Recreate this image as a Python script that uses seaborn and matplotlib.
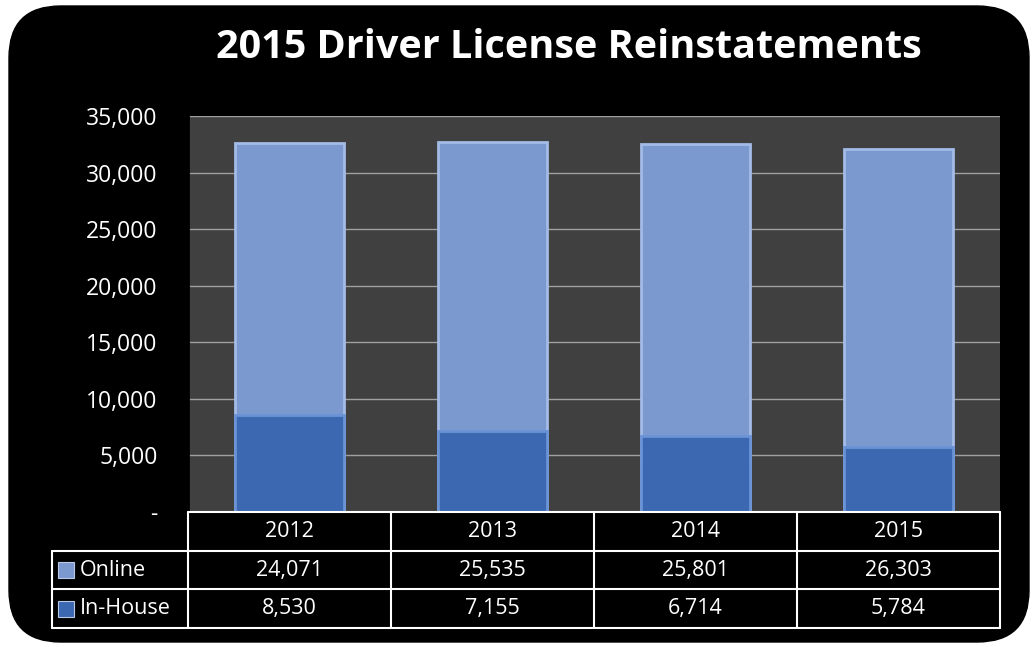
import numpy as np
import pandas as pd
import seaborn as sns
import matplotlib.pyplot as plt
from matplotlib.patches import FancyBboxPatch, Rectangle
from matplotlib.ticker import FuncFormatter

years = ['2012', '2013', '2014', '2015']
online = [24071, 25535, 25801, 26303]
inhouse = [8530, 7155, 6714, 5784]
series_names = ['Online', 'In-House']
yticks = [0, 5000, 10000, 15000, 20000, 25000, 30000, 35000]

c_online = '#7b98cf'
c_inhouse = '#3c68b1'

df = pd.DataFrame({'Year': years, 'Online': online, 'In-House': inhouse})
df['Total'] = df['Online'] + df['In-House']

sns.set_style('dark')
plt.rcParams['font.family'] = ['Open Sans', 'DejaVu Sans']

W, H = 1034, 647
fig = plt.figure(figsize=(W / 100, H / 100), dpi=100)
fig.patch.set_facecolor('white')

# black rounded panel
bg = FancyBboxPatch((9 / W, 5 / H), 1020 / W, 636 / H,
                    boxstyle='round,pad=0,rounding_size=0.05',
                    transform=fig.transFigure, facecolor='black',
                    edgecolor='black', zorder=-10, mutation_aspect=W / H)
fig.patches.append(bg)

fig.text(569 / W, 1 - 48 / H, '2015 Driver License Reinstatements', ha='center', va='center',
         color='white', fontsize=28.5, fontweight='bold')

x0, x1 = 188, 1000
y_top, y_bot = 116, 512
ax = fig.add_axes([x0 / W, 1 - y_bot / H, (x1 - x0) / W, (y_bot - y_top) / H])
ax.set_facecolor('#404040')

sns.barplot(data=df, x='Year', y='Total', color=c_online, width=0.54,
            edgecolor='#a3bbe6', linewidth=2, saturation=1, ax=ax)
sns.barplot(data=df, x='Year', y='In-House', color=c_inhouse, width=0.54,
            edgecolor='#6a93d6', linewidth=2, saturation=1, ax=ax)

ax.set_ylim(0, 35000)
ax.set_yticks(yticks)
ax.yaxis.set_major_formatter(FuncFormatter(lambda v, p: '-' if v == 0 else f'{v:,.0f}'))
ax.tick_params(axis='y', colors='white', labelsize=16.5, length=0, pad=22)
ax.set_xticks([])
ax.set_xlabel('')
ax.set_ylabel('')
ax.grid(axis='y', color='#a0a0a0', linewidth=1)
ax.set_axisbelow(True)
for s in ['top', 'right', 'bottom']:
    ax.spines[s].set_visible(False)
ax.spines['left'].set_color('black')
ax.spines['left'].set_linewidth(2)

# data table below the plot
lab_x = 52
row_h = 38.7
tab = fig.add_axes([0, 0, 1, 1], facecolor='none')
tab.set_xlim(0, W)
tab.set_ylim(H, 0)
tab.axis('off')
col_w = (x1 - x0) / len(years)
lc = 'white'
lw = 1.5
# header row
tab.plot([x0, x1], [y_bot, y_bot], color=lc, lw=lw)
for i in range(len(years) + 1):
    xx = x0 + i * col_w
    tab.plot([xx, xx], [y_bot, y_bot + 3 * row_h], color=lc, lw=lw)
for r in range(1, 4):
    yy = y_bot + r * row_h
    tab.plot([lab_x, x1], [yy, yy], color=lc, lw=lw)
tab.plot([lab_x, lab_x], [y_bot + row_h, y_bot + 3 * row_h], color=lc, lw=lw)

for i, yr in enumerate(years):
    tab.text(x0 + (i + 0.5) * col_w, y_bot + 0.5 * row_h, yr, ha='center', va='center',
             color='white', fontsize=15.5)
rows = [online, inhouse]
cols = [c_online, c_inhouse]
for r, (name, vals, c) in enumerate(zip(series_names, rows, cols)):
    yc = y_bot + (r + 1.5) * row_h
    tab.add_patch(Rectangle((lab_x + 6, yc - 8), 16, 16, facecolor=c, edgecolor='#bcc9e6', lw=0.8))
    tab.text(lab_x + 28, yc, name, ha='left', va='center', color='white', fontsize=15.5)
    for i, v in enumerate(vals):
        tab.text(x0 + (i + 0.5) * col_w, yc, f'{v:,}', ha='center', va='center',
                 color='white', fontsize=15.5)

fig.savefig('out.png', dpi=100)
